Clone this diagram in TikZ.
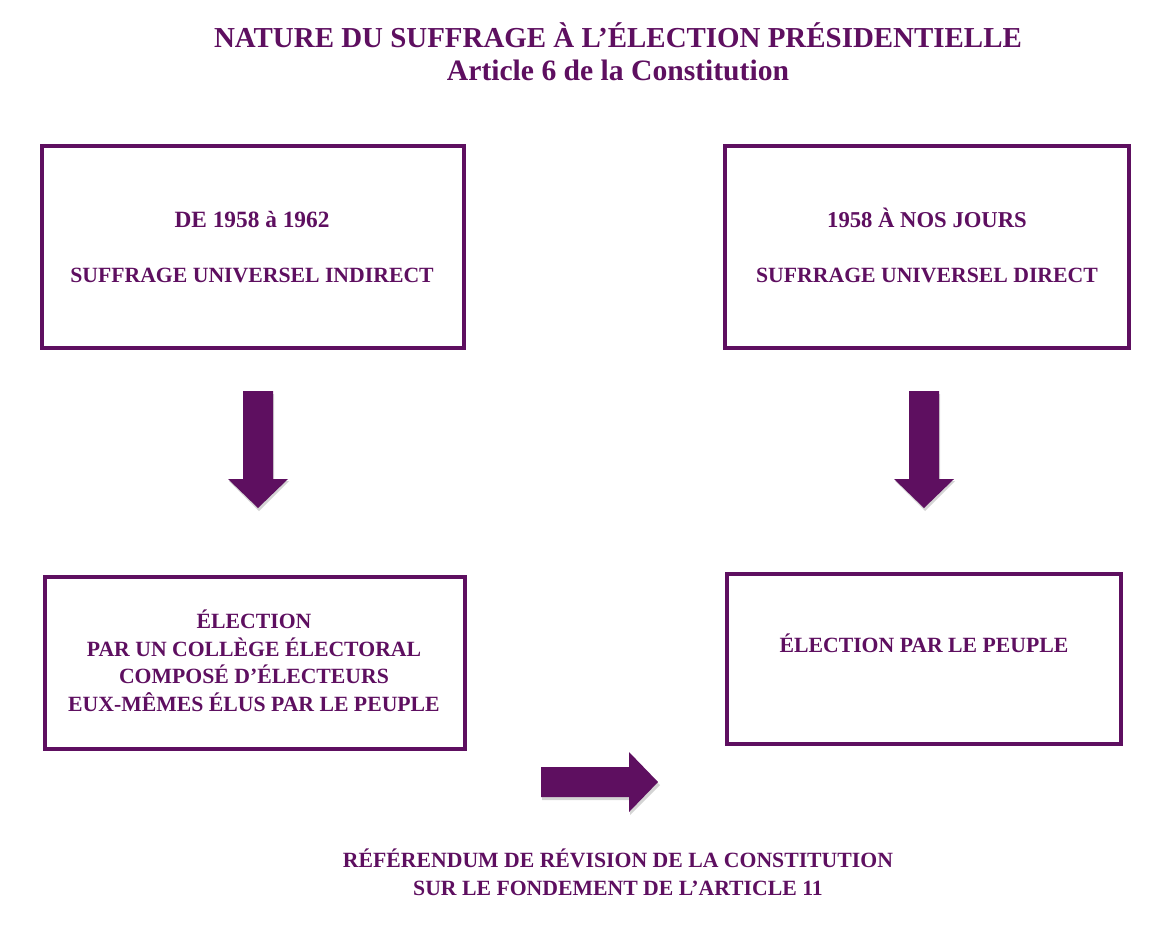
\documentclass[tikz,border=0pt]{standalone}
\usepackage{fontspec}
\setmainfont{Liberation Serif}
\usetikzlibrary{fit}
\definecolor{purp}{HTML}{5E0F60}
\definecolor{shade}{HTML}{D4D4D4}
\begin{document}
\begin{tikzpicture}[x=0.75pt,y=-0.75pt,
  box/.style={draw=purp, line width=3pt, inner sep=0pt},
  txt/.style={text=purp, font=\bfseries\fontsize{16.3}{19}\selectfont, inner sep=0pt, anchor=base},
  ttl/.style={text=purp, font=\bfseries\fontsize{21.7}{25}\selectfont, inner sep=0pt, anchor=base},
  blk/.style={fill=purp, draw=none},
  shd/.style={fill=shade, draw=none}]
\useasboundingbox (0,0) rectangle (1166,936);

% title
\node[ttl] (title) at (618,47) {NATURE DU SUFFRAGE À L’ÉLECTION PRÉSIDENTIELLE};
\node[ttl, font=\bfseries\fontsize{22.2}{25}\selectfont] (sub) at (618,80) {Article 6 de la Constitution};

% boxes
\node[box, fit={(42,146) (464,348)}] (b1) {};
\node[box, fit={(725,146) (1129,348)}] (b2) {};
\node[box, fit={(45,577) (465,749)}] (b3) {};
\node[box, fit={(727,574) (1121,744)}] (b4) {};

% box texts
\node[txt, font=\bfseries\fontsize{17.5}{19}\selectfont] (t1a) at (252,227) {DE 1958 à 1962};
\node[txt] (t1b) at (252,282) {SUFFRAGE UNIVERSEL INDIRECT};
\node[txt, font=\bfseries\fontsize{17}{19}\selectfont] (t2a) at (927,227) {1958 À NOS JOURS};
\node[txt] (t2b) at (927,282) {SUFRRAGE UNIVERSEL DIRECT};
\node[txt] (t3a) at (254,628) {ÉLECTION};
\node[txt] (t3b) at (254,656) {PAR UN COLLÈGE ÉLECTORAL};
\node[txt] (t3c) at (254,683) {COMPOSÉ D’ÉLECTEURS};
\node[txt] (t3d) at (254,711) {EUX-MÊMES ÉLUS PAR LE PEUPLE};
\node[txt] (t4a) at (924,652) {ÉLECTION PAR LE PEUPLE};
\node[txt] (r1) at (618,867) {RÉFÉRENDUM DE RÉVISION DE LA CONSTITUTION};
\node[txt] (r2) at (618,895) {SUR LE FONDEMENT DE L’ARTICLE 11};

% down arrow left
\path[shd] (244,394) -- (274,394) -- (274,481) -- (289,481) -- (259,511) -- (229,481) -- (244,481) -- cycle;
\path[blk] (243,391) -- (273,391) -- (273,479) -- (288,479) -- (258,508) -- (228,479) -- (243,479) -- cycle;
% down arrow right
\path[shd] (910,394) -- (940,394) -- (940,481) -- (955,481) -- (925,511) -- (895,481) -- (910,481) -- cycle;
\path[blk] (909,391) -- (939,391) -- (939,479) -- (954,479) -- (924,508) -- (894,479) -- (909,479) -- cycle;
% right arrow
\path[shd] (542,770) -- (630,770) -- (630,755) -- (660,785) -- (630,815) -- (630,800) -- (542,800) -- cycle;
\path[blk] (541,767) -- (629,767) -- (629,752) -- (658,782) -- (629,812) -- (629,797) -- (541,797) -- cycle;
\end{tikzpicture}
\end{document}
